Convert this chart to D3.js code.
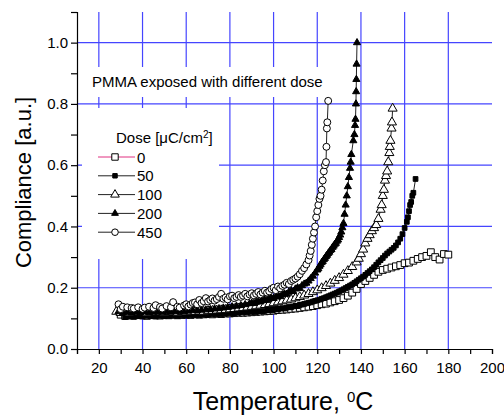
<!DOCTYPE html>
<html lang="en">
<head>
    <meta charset="UTF-8">
    <title>PMMA compliance</title>
    <script src="https://d3js.org/d3.v7.min.js"></script>
    <style>
        body { margin: 0; background: #fff; }
        text { font-family: Arial, "Liberation Sans", sans-serif; fill: #000; }
    </style>
</head>
<body>
    <svg></svg>

    <script>
        const w = 504;
        const h = 416;

        const xTicks = [20, 40, 60, 80, 100, 120, 140, 160, 180, 200];
        const yTicks = [0.0, 0.2, 0.4, 0.6, 0.8, 1.0];
        const doses = ["0", "50", "100", "200", "450"];

        // [temperature, compliance]
        const dose0 = [[30,.112],[32,.108],[34,.110],[36,.109],[38,.111],[40,.110],[42,.108],[44,.111],[46,.110],[48,.109],[50,.111],[52,.110],[54,.112],[56,.110],[58,.111],[60,.112],[62,.111],[64,.113],[66,.112],[68,.113],[70,.114],[72,.113],[74,.115],[76,.114],[78,.116],[80,.116],[82,.117],[84,.118],[86,.118],[88,.119],[90,.120],[92,.121],[94,.122],[96,.123],[98,.124],[100,.125],[102,.127],[104,.128],[106,.129],[108,.131],[110,.132],[112,.134],[114,.136],[116,.138],[118,.140],[120,.143],[122,.146],[124,.148],[126,.152],[128,.156],[130,.160],[132,.166],[134,.174],[136,.184],[138,.196],[140,.212],[142,.222],[144,.232],[146,.242],[148,.252],[150,.258],[152,.262],[154,.266],[156,.270],[158,.274],[160,.280],[162,.282],[164,.288],[166,.294],[168,.300],[170,.304],[172,.316],[174,.300],[176,.292],[178,.310],[180,.308]];
        const dose50 = [[32,.104],[34,.106],[36,.105],[38,.107],[40,.106],[42,.108],[44,.107],[46,.106],[48,.108],[50,.107],[52,.108],[54,.109],[56,.108],[58,.110],[60,.109],[62,.110],[64,.111],[66,.110],[68,.112],[70,.112],[72,.113],[74,.114],[76,.114],[78,.115],[80,.116],[82,.117],[84,.118],[86,.119],[88,.120],[90,.121],[91,.122],[92,.121],[93,.123],[94,.124],[95,.123],[96,.125],[97,.126],[98,.127],[99,.126],[100,.128],[101,.130],[102,.129],[103,.132],[104,.133],[105,.132],[106,.135],[107,.137],[108,.136],[109,.139],[110,.141],[111,.140],[112,.144],[113,.145],[114,.147],[115,.149],[116,.151],[117,.152],[118,.155],[119,.157],[120,.159],[121,.161],[122,.164],[123,.166],[124,.169],[125,.172],[126,.175],[127,.178],[128,.181],[129,.184],[130,.188],[131,.191],[132,.195],[133,.199],[134,.203],[135,.207],[136,.211],[137,.216],[138,.221],[139,.226],[140,.231],[141,.236],[142,.242],[143,.248],[144,.254],[145,.260],[146,.267],[147,.275],[148,.283],[149,.290],[150,.297],[151,.305],[152,.312],[153,.318],[154,.324],[155,.330],[156,.338],[157,.348],[158,.360],[159,.375],[160,.395],[161,.415],[161.5,.43],[162,.45],[162.5,.47],[163,.48],[163.5,.50],[164,.51],[165,.555]];
        const dose100 = [[28,.122],[30,.118],[32,.120],[34,.117],[36,.119],[38,.118],[40,.120],[42,.117],[44,.119],[46,.118],[48,.120],[50,.119],[52,.121],[54,.120],[56,.119],[58,.121],[60,.120],[62,.122],[64,.121],[66,.123],[68,.122],[70,.124],[72,.125],[74,.126],[76,.127],[78,.128],[80,.130],[82,.131],[84,.133],[86,.134],[88,.136],[90,.138],[92,.140],[94,.142],[96,.144],[98,.147],[100,.150],[102,.153],[104,.156],[106,.159],[108,.162],[110,.166],[112,.170],[114,.175],[116,.180],[118,.186],[120,.192],[122,.199],[124,.206],[126,.214],[128,.223],[130,.232],[132,.243],[134,.255],[136,.268],[138,.283],[139,.295],[140,.310],[141,.325],[142,.345],[143,.360],[144,.372],[145,.385],[146,.395],[147,.405],[148,.425],[149,.455],[149.5,.47],[150,.50],[150.5,.52],[151,.55],[151.5,.565],[152,.58],[152.5,.61],[153,.64],[153.2,.66],[153.5,.68],[154,.72],[154.2,.74],[154.5,.785]];
        const dose200 = [[29,.122],[31,.119],[33,.120],[35,.118],[37,.120],[39,.119],[41,.121],[43,.119],[45,.120],[47,.121],[49,.120],[51,.122],[53,.121],[55,.122],[57,.123],[59,.122],[61,.124],[63,.125],[65,.126],[67,.127],[69,.128],[71,.129],[73,.131],[75,.132],[77,.134],[79,.136],[81,.138],[83,.140],[85,.142],[87,.145],[89,.148],[90,.150],[91,.149],[92,.153],[93,.155],[94,.154],[95,.158],[96,.160],[97,.159],[98,.164],[99,.166],[100,.165],[101,.170],[102,.172],[103,.171],[104,.177],[105,.180],[106,.179],[107,.186],[108,.190],[109,.188],[110,.196],[111,.200],[112,.198],[113,.207],[114,.212],[115,.215],[116,.222],[117,.230],[118,.238],[119,.248],[120,.258],[120.5,.262],[121,.270],[121.5,.275],[122,.282],[122.5,.286],[123,.292],[123.5,.296],[124,.302],[124.5,.306],[125,.312],[125.5,.316],[126,.322],[126.5,.325],[127,.332],[127.5,.336],[128,.342],[128.5,.345],[129,.352],[129.5,.356],[130,.364],[130.5,.372],[131,.382],[131.5,.396],[132,.41],[132.5,.44],[133,.47],[133.5,.50],[134,.53],[134.5,.56],[135,.59],[135.3,.61],[135.6,.635],[136.5,.68],[137,.70],[137.3,.73],[137.5,.75],[137.7,.80],[137.8,.84],[137.9,.88],[138,.93],[138.2,1.0]];
        const dose450 = [[29,.146],[30,.130],[31,.138],[33,.136],[35,.134],[36,.132],[38,.136],[40,.131],[41,.135],[43,.138],[45,.134],[46,.143],[48,.137],[49,.132],[51,.140],[53,.136],[54,.153],[56,.138],[57,.135],[59,.142],[60,.146],[61,.139],[62,.145],[63,.150],[64,.152],[65,.146],[66,.160],[67,.150],[68,.156],[69,.166],[70,.155],[71,.160],[72,.165],[73,.158],[74,.163],[75,.170],[76,.180],[77,.164],[78,.168],[79,.162],[80,.172],[81,.174],[82,.166],[83,.170],[84,.176],[85,.170],[86,.174],[87,.180],[88,.172],[89,.178],[90,.182],[91,.175],[92,.180],[93,.186],[94,.178],[95,.184],[96,.190],[97,.184],[98,.188],[99,.196],[100,.200],[101,.192],[102,.204],[103,.198],[104,.206],[105,.210],[106,.216],[107,.212],[108,.222],[109,.226],[110,.230],[111,.236],[112,.244],[113,.255],[114,.264],[115,.276],[116,.290],[116.5,.305],[117,.320],[117.5,.34],[118,.36],[118.5,.38],[119,.40],[119.5,.43],[120,.45],[120.5,.47],[121,.49],[121.5,.50],[122,.52],[122.5,.55],[123,.58],[123.5,.60],[124,.61],[124.2,.66],[124.4,.72],[124.6,.74],[125,.81]];

        const series = [dose0, dose50, dose100, dose200, dose450];

        const x = d3.scaleLinear().domain([10, 200]).range([77, 492]);
        const y = d3.scaleLinear().domain([0, 1.1]).range([349, 12]);
        const blue = "#4545ff";

        const svg = d3.select("svg").attr("width", w).attr("height", h);

        // grid
        const grid = svg.append("g");
        grid.selectAll(".hg")
            .data(yTicks.filter(d => d > 0))
            .enter()
            .append("line")
                .attr("x1", x(10)).attr("x2", x(200))
                .attr("y1", d => y(d)).attr("y2", d => y(d))
                .attr("stroke", blue).attr("stroke-width", 1.2);
        grid.selectAll(".vg")
            .data(xTicks.filter(d => d < 200))
            .enter()
            .append("line")
                .attr("x1", d => x(d)).attr("x2", d => x(d))
                .attr("y1", y(0)).attr("y2", y(1.1))
                .attr("stroke", blue).attr("stroke-width", 1.2);

        // white boxes behind annotation and legend
        svg.append("rect").attr("x", 88).attr("y", 67).attr("width", 240).attr("height", 30).attr("fill", "#fff");
        svg.append("rect").attr("x", 82).attr("y", 108).attr("width", 137).attr("height", 151).attr("fill", "#fff");

        // axes
        const xAxis = d3.axisBottom(x).tickValues(d3.range(10, 201, 10)).tickSize(5)
            .tickFormat(d => xTicks.includes(d) ? d : "");
        const yAxis = d3.axisLeft(y).tickValues(d3.range(0, 11).map(i => i / 10).concat([1.1])).tickSize(6)
            .tickFormat(d => yTicks.some(t => Math.abs(t - d) < 1e-6) ? d3.format(".1f")(d) : "");

        const gx = svg.append("g").attr("transform", `translate(0, ${y(0)})`).call(xAxis);
        const gy = svg.append("g").attr("transform", `translate(${x(10)}, 0)`).call(yAxis);
        [gx, gy].forEach(g => {
            g.select(".domain").attr("stroke", "#000").attr("stroke-width", 1.2);
            g.selectAll(".tick line").attr("stroke", "#000").attr("stroke-width", 1.2);
            g.selectAll("text").attr("font-size", 15).attr("font-family", "Arial, 'Liberation Sans', sans-serif").attr("fill", "#222");
        });
        gx.selectAll("text").attr("dy", "1.05em");
        gy.selectAll("text").attr("x", -9);

        // symbols
        const sym = [
            { type: d3.symbolSquare, size: 46, fill: "#fff" },
            { type: d3.symbolSquare, size: 22, fill: "#000" },
            { type: d3.symbolTriangle, size: 36, fill: "#fff" },
            { type: d3.symbolTriangle, size: 22, fill: "#000" },
            { type: d3.symbolCircle, size: 38, fill: "#fff" }
        ];
        const lineColor = ["#e03080", "#222", "#222", "#222", "#222"];

        const line = d3.line().x(d => x(d[0])).y(d => y(d[1]));

        series.forEach((s, i) => {
            const g = svg.append("g");
            g.append("path")
                .attr("d", line(s))
                .attr("fill", "none")
                .attr("stroke", i === 0 ? "#000" : lineColor[i])
                .attr("stroke-width", 1);
            g.selectAll("path.pt")
                .data(s)
                .enter()
                .append("path")
                    .attr("class", "pt")
                    .attr("transform", d => `translate(${x(d[0])}, ${y(d[1])})`)
                    .attr("d", d3.symbol().type(sym[i].type).size(sym[i].size))
                    .attr("fill", sym[i].fill)
                    .attr("stroke", "#000")
                    .attr("stroke-width", 1);
        });

        // annotation
        svg.append("text")
            .attr("x", 92).attr("y", 87)
            .attr("font-size", 15)
            .text("PMMA exposed with different dose");

        // legend
        const legend = svg.append("g");
        const lt = legend.append("text").attr("x", 116).attr("y", 143).attr("font-size", 15);
        lt.append("tspan").text("Dose [\u03bcC/cm");
        lt.append("tspan").attr("baseline-shift", "super").attr("font-size", 10).text("2");
        lt.append("tspan").text("]");

        const items = legend.selectAll(".item")
            .data(doses)
            .enter()
            .append("g")
                .attr("transform", (d, i) => `translate(0, ${157 + i * 18.8})`);
        items.append("line")
            .attr("x1", 98).attr("x2", 135)
            .attr("stroke", (d, i) => lineColor[i])
            .attr("stroke-width", 1);
        items.append("path")
            .attr("transform", "translate(115, 0)")
            .attr("d", (d, i) => d3.symbol().type(sym[i].type).size(sym[i].size * 0.9)())
            .attr("fill", (d, i) => sym[i].fill)
            .attr("stroke", "#000");
        items.append("text")
            .attr("x", 137).attr("y", 5.5)
            .attr("font-size", 15)
            .text(d => d);

        // axis titles
        svg.append("text")
            .attr("transform", `translate(31, ${(y(0) + y(1.1)) / 2 + 2}) rotate(-90)`)
            .attr("text-anchor", "middle")
            .attr("font-size", 22)
            .text("Compliance [a.u.]");

        const xt = svg.append("text")
            .attr("x", 283).attr("y", 410)
            .attr("text-anchor", "middle")
            .attr("font-size", 25);
        xt.append("tspan").text("Temperature, ");
        xt.append("tspan").attr("baseline-shift", "super").attr("font-size", 15).text("0");
        xt.append("tspan").text("C");
    </script>
</body>
</html>
